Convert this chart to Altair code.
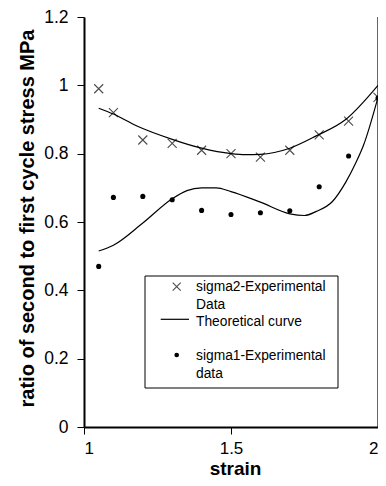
import altair as alt
import pandas as pd

# Experimental data
strain_exp = [1.05, 1.10, 1.20, 1.30, 1.40, 1.50, 1.60, 1.70, 1.80, 1.90, 2.00]
sigma2 = [0.99, 0.92, 0.84, 0.83, 0.81, 0.80, 0.79, 0.81, 0.855, 0.895, 0.965]
sigma1 = [0.47, 0.672, 0.675, 0.665, 0.634, 0.622, 0.627, 0.633, 0.703, 0.793, 0.963]

# Theoretical curves
upper_x = [1.05, 1.10, 1.18, 1.30, 1.40, 1.50, 1.55, 1.60, 1.70, 1.79, 1.89, 2.00]
upper_y = [0.933, 0.916, 0.881, 0.842, 0.816, 0.800, 0.797, 0.798, 0.816, 0.852, 0.900, 1.000]
lower_x = [1.05, 1.10, 1.20, 1.30, 1.35, 1.40, 1.45, 1.50, 1.60, 1.70, 1.75, 1.79, 1.845, 1.89, 1.925, 1.95, 2.00]
lower_y = [0.515, 0.532, 0.597, 0.668, 0.692, 0.700, 0.700, 0.689, 0.658, 0.624, 0.619, 0.631, 0.660, 0.716, 0.774, 0.823, 0.965]

y_ticks = [0, 0.2, 0.4, 0.6, 0.8, 1.0, 1.2]
x_ticks = [1, 1.5, 2]

legend_lines = ["sigma2-Experimental", "Data", "Theoretical curve", "sigma1-Experimental", "data"]

FONT = "Liberation Sans"

exp_df = pd.DataFrame({"strain": strain_exp, "sigma2": sigma2, "sigma1": sigma1})
theo_df = pd.concat([
    pd.DataFrame({"strain": upper_x, "ratio": upper_y, "curve": "upper"}),
    pd.DataFrame({"strain": lower_x, "ratio": lower_y, "curve": "lower"}),
])

xscale = alt.Scale(domain=[1, 2], nice=False, zero=False)
yscale = alt.Scale(domain=[0, 1.2], nice=False)

xaxis = alt.Axis(values=x_ticks, format=".1~f", title="strain", titleY=47, titleX=151,
                 titleAlign="center", titleBaseline="alphabetic", labelPadding=6,
                 labelFontSize=17, titleFontSize=19)
yaxis = alt.Axis(values=y_ticks, format=".1~f", title="ratio of second to first cycle stress MPa",
                 titleX=-57, titleY=201, titleAlign="center", titleBaseline="middle",
                 titleAngle=270, labelPadding=9, labelFontSize=17.5, titleFontSize=20)

X_SHAPE = "M-1,-1L1,1M-1,1L1,-1"

frame = alt.Chart(pd.DataFrame({"strain": [2]})).mark_rule(
    color="#333", strokeWidth=1.5
).encode(x=alt.X("strain:Q", scale=xscale, axis=xaxis))

lines = alt.Chart(theo_df).mark_line(color="black", strokeWidth=1.2, interpolate="monotone").encode(
    x=alt.X("strain:Q", scale=xscale, axis=xaxis),
    y=alt.Y("ratio:Q", scale=yscale, axis=yaxis),
    detail="curve:N",
)

s2 = alt.Chart(exp_df).mark_point(shape=X_SHAPE, filled=False, color="black", size=81, strokeWidth=1.1).encode(
    x=alt.X("strain:Q", scale=xscale, axis=xaxis),
    y=alt.Y("sigma2:Q", scale=yscale, axis=yaxis),
)

s1 = alt.Chart(exp_df).mark_circle(color="black", size=26, opacity=1).encode(
    x=alt.X("strain:Q", scale=xscale, axis=xaxis),
    y=alt.Y("sigma1:Q", scale=yscale, axis=yaxis),
)

one = pd.DataFrame({"a": [0]})

leg_box = alt.Chart(one).mark_rect(fill="white", stroke="black", strokeWidth=1).encode(
    x=alt.value(61), x2=alt.value(254), y=alt.value(259), y2=alt.value(371)
)
leg_x = alt.Chart(one).mark_point(shape=X_SHAPE, filled=False, color="black", size=64, strokeWidth=1.1).encode(
    x=alt.value(92.7), y=alt.value(269.7)
)
leg_line = alt.Chart(one).mark_rule(color="black", strokeWidth=1.2).encode(
    x=alt.value(76.7), x2=alt.value(105), y=alt.value(302.3)
)
leg_dot = alt.Chart(one).mark_circle(color="black", size=22, opacity=1).encode(
    x=alt.value(92.7), y=alt.value(338)
)

baselines = [273.7, 292, 309, 343, 361.3]
leg_texts = [
    alt.Chart(pd.DataFrame({"t": [txt]})).mark_text(
        font=FONT, fontSize=13.8, align="left", baseline="alphabetic", color="black"
    ).encode(x=alt.value(112), y=alt.value(b), text="t:N")
    for txt, b in zip(legend_lines, baselines)
]

chart = alt.layer(frame, lines, s2, s1, leg_box, leg_x, leg_line, leg_dot, *leg_texts).properties(
    width=294, height=410,
    autosize=alt.AutoSizeParams(type="none"),
    padding={"left": 76, "top": 9, "right": 0, "bottom": 51},
).configure_axis(
    grid=False, domainColor="black", domainWidth=2, tickColor="black", tickSize=7, tickWidth=1,
    labelFont=FONT, labelColor="black",
    titleFont=FONT, titleFontWeight="bold", titleColor="black",
).configure_view(stroke=None)

chart.save("out.html", embed_options={"renderer": "svg", "actions": False})
